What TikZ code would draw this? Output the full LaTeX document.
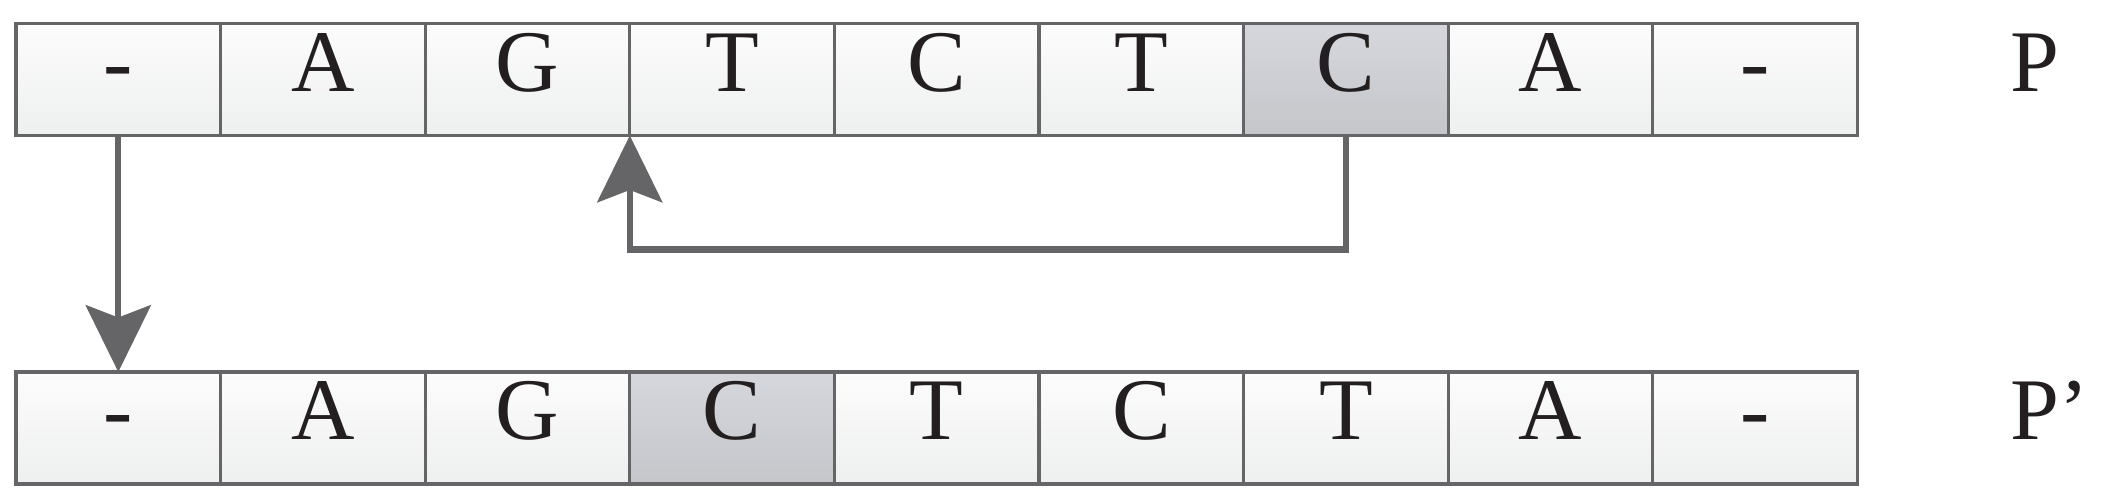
\documentclass[tikz,border=0pt]{standalone}
\usepackage{fontspec}
\setmainfont{Liberation Serif}
\usetikzlibrary{arrows.meta}
\definecolor{edgegray}{RGB}{101,101,103}
\definecolor{celltop}{RGB}{252,252,252}
\definecolor{cellbot}{RGB}{238,239,239}
\definecolor{marktop}{RGB}{213,215,221}
\definecolor{markbot}{RGB}{197,198,202}
\definecolor{ink}{RGB}{35,31,32}
\begin{document}
\begin{tikzpicture}[
    cell/.style={draw=edgegray, line width=0.9pt, top color=celltop, bottom color=cellbot, minimum width=2.046cm, minimum height=1.12cm, inner sep=0pt, outer sep=0pt, text=ink, font=\fontsize{25}{30}\selectfont, text height=0.66em, text depth=0pt},
    plain/.style={}, marked/.style={top color=marktop, bottom color=markbot},
    tag/.style={anchor=west, inner sep=0pt, text=ink, font=\fontsize{25}{30}\selectfont, text height=0.66em, text depth=0pt},
    link/.style={draw=edgegray, line width=1.8pt, -{Stealth[length=19pt, width=18.5pt, inset=3.5pt]}}]
        \useasboundingbox (0,0) rectangle (21.06,5.02);
        \foreach \s/\st [count=\i from 0] in {-/plain,A/plain,G/plain,T/plain,C/plain,T/plain,C/marked,A/plain,-/plain} \node[cell, \st] (p\i) at ({0.16+(\i+0.5)*2.046}, 4.225) {\s};
        \foreach \s/\st [count=\i from 0] in {-/plain,A/plain,G/plain,C/marked,T/plain,C/plain,T/plain,A/plain,-/plain} \node[cell, \st] (q\i) at ({0.16+(\i+0.5)*2.046}, 0.74) {\s};
        \node[tag] (lp) at (20.1, 4.225) {P}; \node[tag] (lq) at (20.1, 0.74) {P’};
        \draw[link] (p0.south) -- (q0.north);
        \draw[link] (p6.south) -- ++(0,-1.14) -| (p3.south west);
    \end{tikzpicture}
\end{document}
